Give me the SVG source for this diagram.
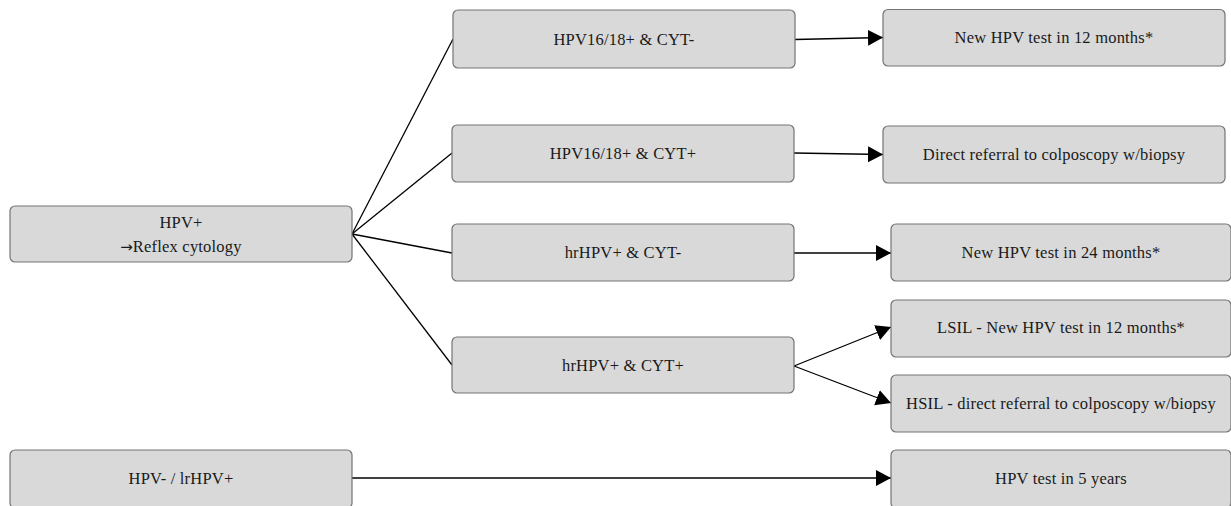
<svg xmlns="http://www.w3.org/2000/svg" width="1231" height="506" viewBox="0 0 1231 506">
  <style>
    .box { fill: #d9d9d9; stroke: #747474; stroke-width: 1.2; }
    .lbl { font-family: "Liberation Serif", "DejaVu Serif", serif; font-size: 16.5px; letter-spacing: 0.2px; fill: #1a1a1a; text-anchor: middle; }
    .sym { font-family: "DejaVu Sans", sans-serif; font-size: 15px; letter-spacing: 0; }
    .edge { stroke: #000; stroke-width: 1.3; fill: none; }
    .arrow { stroke: #000; stroke-width: 1.3; fill: none; marker-end: url(#head); }
  </style>
  <defs>
    <marker id="head" markerUnits="userSpaceOnUse" markerWidth="16" markerHeight="17" refX="15" refY="8" orient="auto">
      <path d="M0,0 L15,8 L0,16 Z" fill="#000"/>
    </marker>
  </defs>
  <rect width="1231" height="506" fill="#fff"/>

  <!-- connectors -->
  <g id="connectors">
    <line class="edge" x1="352" y1="234" x2="453" y2="39"/>
    <line class="edge" x1="352" y1="234" x2="452" y2="153"/>
    <line class="edge" x1="352" y1="234" x2="452" y2="253"/>
    <line class="edge" x1="352" y1="234" x2="452" y2="365"/>
    <line class="arrow" x1="795" y1="39.5" x2="883" y2="37.5"/>
    <line class="arrow" x1="794" y1="153" x2="883" y2="154.5"/>
    <line class="arrow" x1="794" y1="253" x2="891" y2="253"/>
    <line class="arrow" x1="794" y1="366" x2="891" y2="327"/>
    <line class="arrow" x1="794" y1="366" x2="891" y2="403"/>
    <line class="arrow" x1="352" y1="478" x2="891" y2="478"/>
  </g>

  <!-- entry nodes -->
  <g id="hpv-pos">
    <rect class="box" x="10" y="206" width="342" height="56" rx="5"/>
    <text class="lbl" x="181" y="228">HPV+</text>
    <text class="lbl" x="181" y="252"><tspan class="sym">→</tspan>Reflex cytology</text>
  </g>
  <g id="hpv-neg">
    <rect class="box" x="10" y="450" width="342" height="58" rx="5"/>
    <text class="lbl" x="181" y="484">HPV- / lrHPV+</text>
  </g>

  <!-- triage nodes -->
  <g id="hpv1618-cytneg">
    <rect class="box" x="453" y="10" width="342" height="58" rx="5"/>
    <text class="lbl" x="624" y="45">HPV16/18+ &amp; CYT-</text>
  </g>
  <g id="hpv1618-cytpos">
    <rect class="box" x="452" y="125" width="342" height="57" rx="5"/>
    <text class="lbl" x="623" y="159">HPV16/18+ &amp; CYT+</text>
  </g>
  <g id="hrhpv-cytneg">
    <rect class="box" x="452" y="224" width="342" height="57" rx="5"/>
    <text class="lbl" x="623" y="258">hrHPV+ &amp; CYT-</text>
  </g>
  <g id="hrhpv-cytpos">
    <rect class="box" x="452" y="337" width="342" height="56" rx="5"/>
    <text class="lbl" x="623" y="371">hrHPV+ &amp; CYT+</text>
  </g>

  <!-- outcome nodes -->
  <g id="retest-12">
    <rect class="box" x="883" y="9.5" width="342" height="56.5" rx="5"/>
    <text class="lbl" x="1054" y="43">New HPV test in 12 months*</text>
  </g>
  <g id="colposcopy">
    <rect class="box" x="883" y="126" width="342" height="57" rx="5"/>
    <text class="lbl" x="1054" y="160">Direct referral to colposcopy w/biopsy</text>
  </g>
  <g id="retest-24">
    <rect class="box" x="891" y="224" width="340" height="57" rx="5"/>
    <text class="lbl" x="1061" y="258">New HPV test in 24 months*</text>
  </g>
  <g id="lsil">
    <rect class="box" x="891" y="300" width="340" height="57" rx="5"/>
    <text class="lbl" x="1061" y="333">LSIL - New HPV test in 12 months*</text>
  </g>
  <g id="hsil">
    <rect class="box" x="891" y="375" width="340" height="57" rx="5"/>
    <text class="lbl" x="1061" y="409">HSIL - direct referral to colposcopy w/biopsy</text>
  </g>
  <g id="retest-5y">
    <rect class="box" x="891" y="450" width="340" height="58" rx="5"/>
    <text class="lbl" x="1061" y="484">HPV test in 5 years</text>
  </g>
</svg>
